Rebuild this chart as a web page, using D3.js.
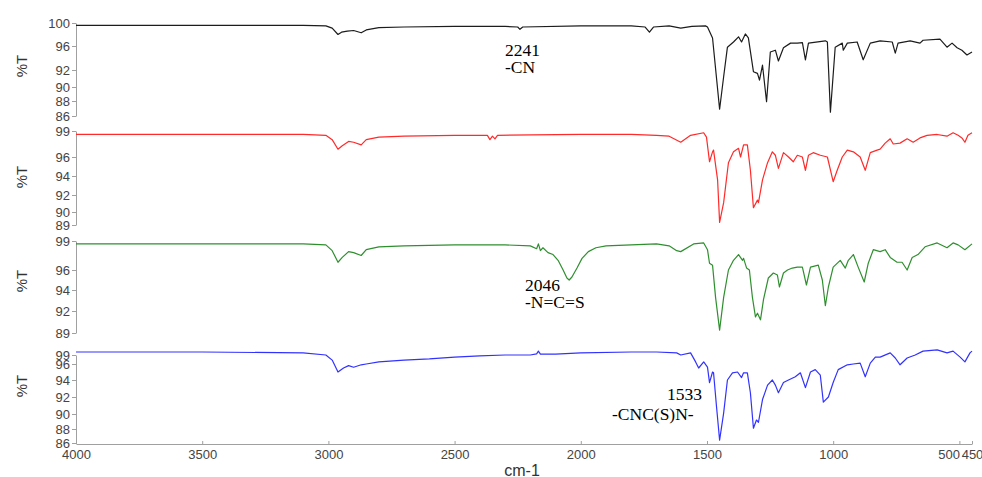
<!DOCTYPE html>
<html>
<head>
<meta charset="utf-8">
<script src="https://cdn.jsdelivr.net/npm/d3@7"></script>
<style>
    body { margin: 0; background: #fff; }
    svg { display: block; }
    .axis text { font-family: "Liberation Sans", Arial, sans-serif; font-size: 13px; fill: #444; }
    .axis path, .axis line { stroke: #a0a0a0; }
</style>
</head>
<body>
<div id="chart"></div>
<script>
// spectra: [wavenumber cm-1, %T]
const blackSpectrum = [
    [4000,99.6],[3500,99.6],[3100,99.6],[3010,99.5],[2985,99.1],[2962,98.0],[2948,98.4],[2925,98.6],
    [2900,98.7],[2870,98.3],[2850,98.8],[2800,99.2],[2700,99.3],[2500,99.4],[2300,99.4],[2250,99.3],
    [2241,98.9],[2230,99.3],[2000,99.5],[1800,99.5],[1745,99.3],[1728,98.4],[1712,99.3],[1650,99.5],
    [1604,99.1],[1560,99.4],[1506,99.5],[1498,99.3],[1478,97.4],[1450,86.9],[1434,91.2],[1419,95.8],
    [1395,96.7],[1375,97.6],[1363,96.7],[1348,98.1],[1336,97.4],[1316,91.8],[1300,91.6],[1292,90.8],
    [1280,92.8],[1264,87.9],[1249,95.0],[1229,95.3],[1217,93.5],[1197,95.7],[1169,96.5],[1142,96.5],
    [1122,96.6],[1110,93.7],[1098,96.5],[1031,96.9],[1023,96.7],[1011,86.5],[992,95.8],[964,96.5],
    [960,95.3],[944,96.5],[905,96.7],[881,93.7],[853,96.5],[814,96.9],[766,96.7],[754,94.8],
    [743,96.5],[695,96.9],[656,96.5],[644,97.0],[577,97.2],[549,95.8],[529,96.5],[509,95.7],
    [490,95.3],[470,94.5],[450,95.0]
];

const redSpectrum = [
    [4000,98.6],[3500,98.6],[3100,98.6],[3010,98.5],[2985,98.0],[2962,96.9],[2945,97.3],[2920,97.8],
    [2900,97.7],[2870,97.4],[2850,98.0],[2800,98.3],[2700,98.4],[2500,98.5],[2370,98.5],[2360,98.0],
    [2350,98.4],[2340,98.1],[2330,98.5],[2000,98.6],[1800,98.6],[1700,98.5],[1650,98.4],[1604,97.7],
    [1565,98.5],[1513,98.8],[1502,98.3],[1490,95.5],[1478,96.6],[1474,96.8],[1458,93.6],[1450,89.2],
    [1434,91.1],[1415,95.4],[1395,96.6],[1375,97.0],[1367,96.0],[1355,97.4],[1340,97.4],[1328,94.6],
    [1316,90.5],[1300,91.4],[1296,91.1],[1280,93.6],[1260,95.4],[1241,96.6],[1229,96.2],[1217,94.8],
    [1197,96.5],[1177,96.0],[1158,95.5],[1142,96.2],[1122,96.0],[1110,94.6],[1098,96.2],[1079,96.5],
    [1051,96.2],[1023,96.0],[1000,93.4],[984,94.6],[964,96.0],[944,96.8],[920,96.6],[893,96.0],
    [873,94.6],[853,96.5],[826,96.8],[814,96.9],[794,97.6],[774,98.1],[762,97.5],[735,97.6],
    [707,98.1],[683,97.7],[656,98.2],[628,98.5],[588,98.6],[549,98.4],[525,98.8],[505,98.5],
    [490,98.2],[478,97.7],[466,98.5],[450,98.8]
];

const greenSpectrum = [
    [4000,98.7],[3500,98.7],[3100,98.7],[3010,98.6],[2985,98.0],[2962,96.8],[2945,97.3],[2920,97.9],
    [2900,97.8],[2870,97.5],[2850,98.1],[2800,98.4],[2700,98.5],[2500,98.6],[2300,98.6],[2200,98.5],
    [2175,98.2],[2168,98.7],[2160,98.0],[2150,98.3],[2130,97.8],[2110,97.6],[2090,97.0],[2070,96.0],
    [2055,95.2],[2046,95.0],[2035,95.3],[2015,96.2],[1995,97.2],[1970,97.9],[1940,98.3],[1900,98.5],
    [1700,98.7],[1650,98.5],[1620,98.0],[1604,97.9],[1553,98.7],[1513,98.8],[1498,98.1],[1490,96.7],
    [1478,96.5],[1466,93.3],[1450,89.4],[1434,93.3],[1415,96.0],[1395,97.0],[1375,97.6],[1359,97.0],
    [1355,97.2],[1343,96.2],[1332,96.0],[1320,93.3],[1308,91.2],[1300,91.7],[1288,90.8],[1276,93.1],
    [1257,95.2],[1237,95.7],[1221,95.5],[1213,94.3],[1197,95.7],[1181,96.0],[1162,96.2],[1142,96.3],
    [1122,96.3],[1106,94.5],[1090,96.3],[1059,96.5],[1043,95.0],[1031,92.5],[1019,94.3],[1000,96.3],
    [972,97.0],[952,96.2],[940,97.0],[920,97.6],[901,96.3],[877,94.8],[861,96.7],[841,98.1],
    [814,97.9],[794,98.1],[774,97.3],[747,96.8],[727,96.8],[707,96.0],[687,97.3],[664,97.6],
    [636,98.4],[588,98.8],[549,98.3],[525,98.8],[505,98.6],[478,98.1],[450,98.7]
];

const blueSpectrum = [
    [4000,100.0],[3500,100.0],[3100,99.7],[3010,99.0],[2985,97.3],[2962,95.0],[2940,95.5],[2920,95.8],
    [2900,95.6],[2870,95.9],[2850,96.0],[2800,96.7],[2700,97.3],[2600,97.7],[2500,98.3],[2400,98.7],
    [2300,99.0],[2200,99.0],[2175,99.4],[2168,100.3],[2160,99.3],[2100,99.3],[2000,99.7],[1800,100.0],
    [1700,100.0],[1620,99.7],[1604,99.0],[1565,99.7],[1545,96.7],[1533,95.5],[1513,96.7],[1498,95.6],
    [1490,93.7],[1478,95.0],[1474,94.9],[1462,90.8],[1450,86.4],[1434,90.1],[1419,94.0],[1399,94.9],
    [1379,95.0],[1363,94.3],[1355,94.9],[1340,94.9],[1328,92.5],[1316,88.1],[1304,89.2],[1296,88.9],
    [1280,91.7],[1260,93.4],[1241,94.0],[1229,93.4],[1217,92.5],[1197,93.7],[1177,94.0],[1150,94.4],
    [1130,94.9],[1110,93.1],[1090,95.0],[1071,95.3],[1051,94.6],[1039,91.4],[1019,92.0],[1000,93.7],
    [980,95.3],[944,95.9],[920,96.0],[893,96.3],[873,94.4],[853,96.3],[833,98.3],[814,98.3],
    [774,99.7],[754,98.0],[735,95.9],[707,98.0],[675,99.0],[644,100.3],[588,100.7],[549,99.7],
    [525,100.3],[497,98.3],[478,96.7],[458,99.7],[450,100.3]
];

// tick labels of each panel's %T axis
const ticksBlack = [100, 96, 92, 90, 88, 86];
const ticksRed = [99, 96, 94, 92, 90, 89];
const ticksGreen = [99, 96, 94, 92, 89];
const ticksBlue = [99, 96, 94, 92, 90, 88, 86];
const xTicks = [4000, 3500, 3000, 2500, 2000, 1500, 1000, 500, 450];

const notes = [["2241", "-CN"], ["2046", "-N=C=S"], ["1533", "-CNC(S)N-"]];

// layout
const width = 982, height = 477;
const axisX = 76;
const tickPx = [
    [23, 46, 70, 87, 101, 116],
    [131, 157, 176, 195, 212, 225],
    [241, 270, 290, 311, 333],
    [355, 364, 380, 397, 414, 429, 443]
];
const yLabelPos = [66, 177, 281, 386];
const notePos = [
    [[505, 56], [505, 73]],
    [[525, 291], [525, 308]],
    [[667, 400], [612, 420]]
];

const svg = d3.select("#chart").append("svg")
    .attr("width", width)
    .attr("height", height);

const x = d3.scaleLinear().domain([4000, 450]).range([axisX, 972]);

const panels = [
    { data: blackSpectrum, ticks: ticksBlack, color: "#1c1c1c" },
    { data: redSpectrum, ticks: ticksRed, color: "#ff2a2a" },
    { data: greenSpectrum, ticks: ticksGreen, color: "#2f8f2f" },
    { data: blueSpectrum, ticks: ticksBlue, color: "#3232ff" }
];

panels.forEach((p, i) => {
    // the original axis labels are unevenly spaced, so piecewise scale
    const y = d3.scaleLinear().domain(p.ticks).range(tickPx[i]);

    svg.append("g")
        .attr("class", "axis")
        .attr("transform", `translate(${axisX},0)`)
        .call(d3.axisLeft(y).tickValues(p.ticks).tickSize(4).tickSizeOuter(0).tickPadding(2).tickFormat(d3.format("d")));

    svg.append("path")
        .datum(p.data)
        .attr("fill", "none")
        .attr("stroke", p.color)
        .attr("stroke-width", 1.2)
        .attr("stroke-linejoin", "round")
        .attr("d", d3.line().x(d => x(d[0])).y(d => y(d[1])));

    svg.append("text")
        .attr("transform", `translate(27,${yLabelPos[i]}) rotate(-90)`)
        .attr("text-anchor", "middle")
        .style("font-family", "'Liberation Sans', Arial, sans-serif")
        .style("font-size", "15px")
        .style("fill", "#333")
        .text("%T");
});

const xAxis = svg.append("g")
    .attr("class", "axis")
    .attr("transform", "translate(0,444)")
    .call(d3.axisBottom(x).tickValues(xTicks).tickSize(-3).tickSizeOuter(0).tickPadding(6).tickFormat(d3.format("d")));

// 500 and 450 sit too close, push 500 to the left of its tick
xAxis.selectAll(".tick text").filter(d => d === 500).attr("text-anchor", "end");

svg.append("text")
    .attr("x", 522)
    .attr("y", 476)
    .attr("text-anchor", "middle")
    .style("font-family", "'Liberation Sans', Arial, sans-serif")
    .style("font-size", "16px")
    .style("fill", "#333")
    .text("cm-1");

notes.forEach((lines, i) => {
    lines.forEach((t, j) => {
        svg.append("text")
            .attr("x", notePos[i][j][0])
            .attr("y", notePos[i][j][1])
            .style("font-family", "'Liberation Serif', 'Times New Roman', serif")
            .style("font-size", "17.5px")
            .style("fill", "#000")
            .text(t);
    });
});
</script>
</body>
</html>
